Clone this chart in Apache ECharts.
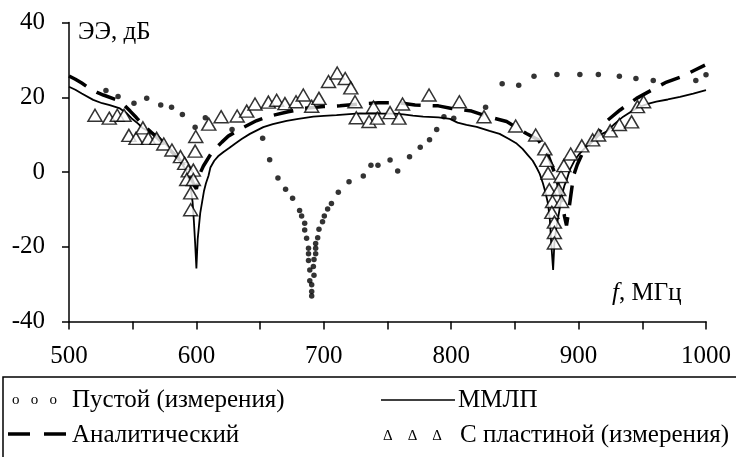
<!DOCTYPE html>
<html>
<head>
<meta charset="utf-8">
<script src="https://cdn.jsdelivr.net/npm/echarts@6/dist/echarts.min.js"></script>
<style>
  html, body { margin: 0; padding: 0; background: #fff; }
  #chart { width: 736px; height: 457px; }
</style>
</head>
<body>
<div id="chart"></div>
<script>
// Пустой (измерения)
const emptyF = [529, 538.5, 551, 561, 572, 580.5, 589, 599, 607, 628, 652, 657.5, 664, 670, 675.5, 681, 682.6, 685, 685, 686.5, 688, 688, 688, 689, 689, 690.5, 690.5, 690.5, 692.3, 691.8, 692.3, 693.6, 693.6, 693.6, 695.2, 696.2, 699, 700.4, 703, 706, 711.4, 719.8, 731, 737, 742.5, 752, 758, 767.3, 775.7, 783, 788.6, 794.3, 802, 827, 840, 853, 865, 883, 901, 915.5, 932, 945, 958.6, 992, 1000]
const emptyDb = [21.8, 20.2, 18.4, 19.7, 17.9, 17.3, 15.4, 12.0, 14.5, 11.4, 9.0, 3.3, -1.6, -4.6, -7.0, -10.3, -11.8, -13.7, -15.5, -17.7, -20.4, -21.9, -23.7, -26.2, -29.1, -30.2, -32.0, -33.2, -27.6, -25.3, -23.4, -21.9, -20.4, -19.1, -17.6, -15.3, -13.3, -11.8, -9.9, -8.4, -5.4, -2.6, -1.1, 1.8, 1.8, 3.2, 0.3, 4.1, 6.6, 8.6, 11.4, 14.8, 14.4, 17.3, 23.6, 23.2, 25.6, 26.1, 26.1, 26.1, 25.6, 25.0, 24.5, 24.5, 26.0]

// ММЛП
const mmlpF = [500, 505, 510, 519, 526, 532, 540, 545, 549, 554, 558, 563, 569, 573, 576.7, 581, 584.5, 588, 592, 595, 597, 598, 599, 600, 601, 602, 603, 604.5, 606, 607.5, 609.5, 611, 614, 617, 621, 626, 630, 635.5, 642, 652.5, 660, 670.8, 680, 691.8, 700, 710, 720, 728.4, 740, 746.7, 755, 762.4, 770, 778, 790, 799, 805, 812, 820, 830, 838, 845, 851.4, 856, 860, 864, 867, 869.5, 872, 874, 876, 877.5, 878.5, 880, 881, 882.5, 884, 885.4, 887, 889, 890.7, 893, 897, 901, 906, 912, 916, 922, 928, 935, 942, 948, 955, 961, 970, 979.6, 990, 1000]
const mmlpDb = [22.8, 22.0, 21.0, 19.3, 18.4, 17.9, 17.0, 15.8, 14.4, 13.0, 11.7, 10.8, 9.9, 8.5, 7.2, 5.6, 4.1, 2.5, 0.5, -3.0, -8.0, -13.0, -19.0, -25.8, -18.0, -14.5, -11.0, -8.0, -5.0, -3.0, -1.0, 1.2, 3.0, 4.2, 5.3, 6.5, 7.5, 8.8, 10.2, 12.0, 12.8, 13.7, 14.2, 14.8, 15.0, 15.2, 15.5, 15.7, 15.6, 15.6, 15.6, 15.4, 15.1, 14.8, 14.6, 14.2, 13.2, 12.6, 12.1, 11.0, 10.2, 8.9, 7.6, 6.2, 4.6, 3.0, 1.2, -0.5, -3.0, -5.5, -8.5, -13.0, -19.0, -26.2, -19.0, -15.0, -14.5, -9.3, -6.0, -3.5, -2.1, 0.5, 3.2, 5.0, 6.8, 8.5, 9.8, 10.8, 12.8, 14.8, 16.3, 17.5, 18.3, 18.8, 19.4, 20.1, 21.0, 21.9]

// Аналитический
const analF = [500, 505, 510, 516.5, 522, 527, 537.5, 543, 548, 553, 558, 565, 572, 580, 586, 591, 595, 598, 600, 602, 605.5, 612, 620, 625, 634, 647, 655.6, 672, 684, 700, 712.7, 728.4, 742.8, 759.8, 771.6, 789.9, 800.4, 816, 829, 843.5, 859, 868.4, 876, 882, 886, 889, 890.5, 892, 894, 896, 899, 903, 908, 915, 923, 932.6, 945.5, 957.3, 968, 982.4, 991.4, 999.2]
const analDb = [25.7, 24.8, 23.8, 22.3, 21.3, 20.6, 19.3, 18.0, 16.3, 14.5, 12.6, 10.5, 8.3, 5.6, 3.6, 1.5, -0.8, -3.5, -4.5, -1.0, 1.6, 5.2, 8.0, 9.6, 11.4, 13.7, 14.8, 16.1, 17.0, 17.5, 17.7, 18.2, 18.5, 18.5, 17.9, 17.7, 17.0, 16.3, 14.8, 13.5, 10.3, 8.6, 4.5, -1.0, -6.0, -12.0, -14.3, -11.0, -6.0, -1.0, 2.0, 5.0, 7.5, 10.0, 13.9, 16.6, 19.7, 21.9, 23.9, 25.7, 27.3, 28.6]

// С пластиной (измерения)
const plateF = [520.4, 531.6, 537.9, 543.2, 547, 552.6, 558, 562.3, 568.8, 574.4, 580.8, 587.5, 590.8, 593.6, 597.6, 592.4, 597.6, 595.5, 595.5, 599, 599.5, 609.7, 619.4, 632, 639.5, 646, 656.5, 663, 669.5, 678.2, 683.9, 690.5, 696.2, 703.7, 710.5, 716.8, 721.2, 724.5, 725.5, 735.5, 739, 742, 752, 759, 761.8, 782.6, 806.4, 825.7, 850.6, 866.3, 873.5, 875, 876, 877, 879.5, 879, 881, 881, 881, 884.4, 886.6, 886.2, 888.4, 893.8, 902.5, 911, 915.7, 924.8, 932, 941.6, 946.2, 951]
const plateDb = [15.2, 14.4, 15.2, 15.2, 9.8, 9.0, 11.8, 9.0, 9.0, 7.5, 5.9, 4.1, 2.3, 0.3, 0.5, -2.0, -2.0, -5.6, -10.1, 5.6, 9.5, 12.8, 14.8, 15.0, 16.3, 18.2, 18.7, 19.2, 18.3, 18.8, 20.6, 17.6, 19.7, 24.2, 26.5, 25.0, 22.5, 18.8, 14.5, 13.5, 17.4, 14.4, 15.9, 14.4, 18.2, 20.6, 18.8, 14.8, 12.3, 9.9, 6.2, 3.1, -0.3, -4.7, -7.9, -10.8, -13.4, -16.2, -19.0, -4.7, -7.9, -1.2, 1.7, 4.8, 7.0, 8.6, 9.9, 11.0, 12.7, 13.4, 17.5, 18.8]

const xTicks = [500, 600, 700, 800, 900, 1000]

function pairs (xs, ys) {
  return xs.map((x, i) => [x, ys[i]])
}

const FONT = 'Liberation Serif'
const chart = echarts.init(document.getElementById('chart'))

// текст легенды и подписей
function label (x, y, text, size) {
  return {
    type: 'text', x: x, y: y,
    style: { text: text, fontFamily: FONT, fontSize: size, fill: '#000', verticalAlign: 'middle' }
  }
}

const option = {
  backgroundColor: '#fff',
  animation: false,
  textStyle: { fontFamily: FONT, color: '#000' },
  grid: { left: 69, right: 30, top: 22.5, bottom: 135.5 },
  xAxis: {
    type: 'value',
    min: 500,
    max: 1000,
    interval: 50,
    splitLine: { show: false },
    axisLine: { onZero: false, lineStyle: { color: '#000', width: 1.5 } },
    axisTick: { length: 8, lineStyle: { color: '#000', width: 1.5 } },
    axisLabel: {
      margin: 22,
      fontFamily: FONT,
      fontSize: 25,
      color: '#000',
      formatter: v => xTicks.indexOf(v) >= 0 ? String(v) : ''
    }
  },
  yAxis: {
    type: 'value',
    min: -40,
    max: 40,
    interval: 20,
    splitLine: { show: false },
    axisLine: { onZero: false, lineStyle: { color: '#000', width: 1.5 } },
    axisTick: { length: 7, lineStyle: { color: '#000', width: 1.5 } },
    axisLabel: { margin: 24, fontFamily: FONT, fontSize: 25, color: '#000' }
  },
  series: [
    {
      name: 'Пустой (измерения)',
      type: 'scatter',
      data: pairs(emptyF, emptyDb),
      symbol: 'circle',
      symbolSize: 5.5,
      itemStyle: { color: '#000' }
    },
    {
      name: 'ММЛП',
      type: 'line',
      data: pairs(mmlpF, mmlpDb),
      showSymbol: false,
      lineStyle: { color: '#000', width: 1.8 }
    },
    {
      name: 'Аналитический',
      type: 'line',
      data: pairs(analF, analDb),
      showSymbol: false,
      lineStyle: { color: '#000', width: 3.5, type: [20, 12] }
    },
    {
      name: 'С пластиной (измерения)',
      type: 'scatter',
      data: pairs(plateF, plateDb),
      symbol: 'triangle',
      symbolSize: [14, 12],
      itemStyle: { color: '#fff', borderColor: '#000', borderWidth: 1.5 },
      z: 5
    }
  ],
  graphic: [
    // подписи осей
    label(78, 32, 'ЭЭ, дБ', 25),
    {
      type: 'text', x: 612, y: 293,
      style: {
        text: '{i|f}, МГц',
        fontFamily: FONT,
        fontSize: 25,
        fill: '#000',
        verticalAlign: 'middle',
        rich: { i: { fontStyle: 'italic', fontFamily: FONT, fontSize: 25 } }
      }
    },
    // легенда
    {
      type: 'rect',
      shape: { x: 3, y: 377, width: 760, height: 100 },
      style: { fill: 'none', stroke: '#000', lineWidth: 1.5 }
    },
    label(12, 400, 'o   o   o', 15),
    label(72, 400, 'Пустой (измерения)', 25),
    {
      type: 'line',
      shape: { x1: 381, y1: 400, x2: 455, y2: 400 },
      style: { stroke: '#000', lineWidth: 1.5 }
    },
    label(458, 400, 'ММЛП', 25),
    {
      type: 'line',
      shape: { x1: 8, y1: 434, x2: 66, y2: 434 },
      style: { stroke: '#000', lineWidth: 3.5, lineDash: [22, 14] }
    },
    label(72, 435, 'Аналитический', 25),
    label(383, 436, 'Δ    Δ    Δ', 15),
    label(460, 435, 'С пластиной (измерения)', 25)
  ]
}

chart.setOption(option)
</script>
</body>
</html>
